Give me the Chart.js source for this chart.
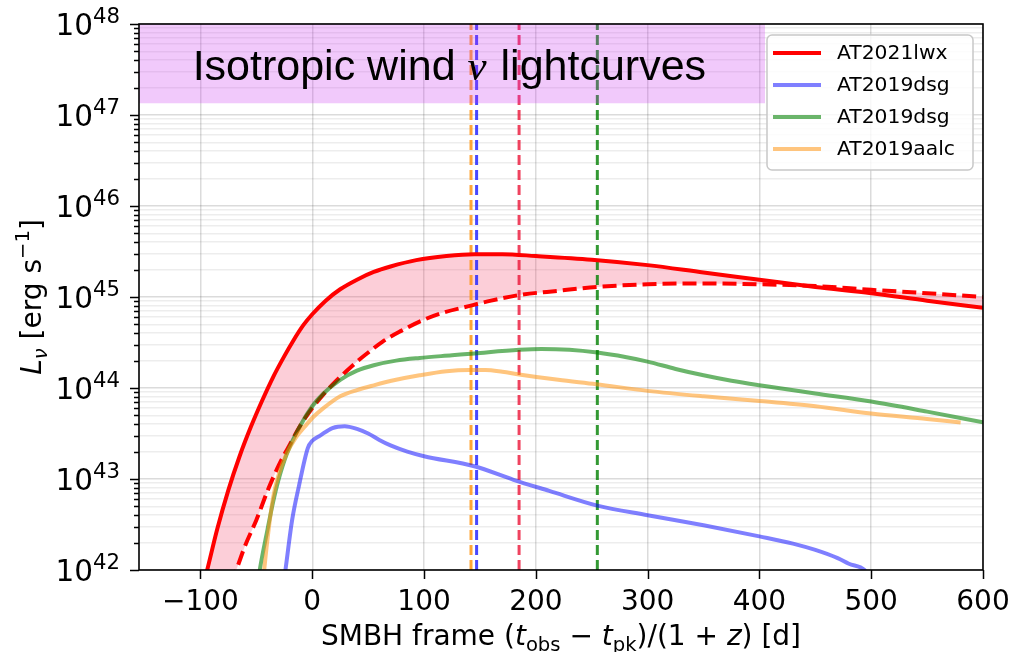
<!DOCTYPE html>
<html>
<head>
<meta charset="utf-8">
<title>Isotropic wind neutrino lightcurves</title>
<script src="https://cdn.jsdelivr.net/npm/chart.js@4.4.1/dist/chart.umd.min.js"></script>
<style>
  html, body { margin: 0; padding: 0; background: #ffffff; }
  #wrap { width: 1017px; height: 652px; }
</style>
</head>
<body>
<div id="wrap"><canvas id="c" width="1017" height="652"></canvas></div>
<script>
// ---- Data: SMBH-frame time [d] and neutrino luminosity L_nu [erg/s] ----
// AT2021lwx, upper model (solid) and lower model (dashed); band filled between them
const lwxUpperDays = [-100, -94, -85, -75, -65, -55, -45, -35, -25, -17, -8, 0, 12, 25, 40, 55, 70, 93, 120, 145, 170, 200, 250, 300, 350, 400, 450, 500, 550, 600];
const lwxUpperLum  = [5.2e41, 1.0e42, 2.82e42, 7.6e42, 1.78e43, 3.72e43, 7.2e43, 1.32e44, 2.24e44, 3.31e44, 4.9e44, 6.46e44, 9.12e44, 1.216e45, 1.55e45, 1.884e45, 2.163e45, 2.54e45, 2.82e45, 2.95e45, 2.95e45, 2.82e45, 2.57e45, 2.24e45, 1.86e45, 1.55e45, 1.29e45, 1.1e45, 9.1e44, 7.6e44];

const lwxLowerDays = [-100, -68, -60, -50, -40, -30, -20, -10, 0, 10, 20, 30, 40, 50, 63, 80, 96, 115, 140, 160, 185, 220, 255, 300, 350, 400, 450, 500, 550, 600];
const lwxLowerLum  = [1.1e41, 1.0e42, 1.86e42, 3.55e42, 7.4e42, 1.41e43, 2.4e43, 3.98e43, 6.03e43, 8.5e43, 1.15e44, 1.51e44, 1.95e44, 2.45e44, 3.24e44, 4.27e44, 5.37e44, 6.61e44, 7.94e44, 9.12e44, 1.05e45, 1.17e45, 1.29e45, 1.38e45, 1.41e45, 1.38e45, 1.32e45, 1.2e45, 1.1e45, 1.0e45];

// AT2019dsg, first model (blue)
const dsgADays = [-26, -24, -18, -12, -4, 0, 7, 18, 29, 40, 50, 60, 70, 85, 100, 145, 180, 212, 255, 300, 350, 400, 430, 450, 470, 480, 494, 500];
const dsgALum  = [6.6e41, 1.0e42, 3.55e42, 8.3e42, 2.19e43, 2.63e43, 3.0e43, 3.63e43, 3.8e43, 3.55e43, 3.16e43, 2.69e43, 2.34e43, 2.0e43, 1.78e43, 1.38e43, 9.8e42, 7.4e42, 5.1e42, 4.0e42, 3.1e42, 2.34e42, 1.95e42, 1.66e42, 1.35e42, 1.17e42, 1.0e42, 7.9e41];

// AT2019dsg, second model (green)
const dsgBDays = [-50, -47, -40, -35, -30, -23, -11, 0, 10, 25, 40, 55, 75, 96, 125, 145, 185, 205, 230, 255, 280, 300, 325, 350, 375, 400, 450, 500, 550, 600];
const dsgBLum  = [5.6e41, 1.0e42, 2.8e42, 5.6e42, 1.0e43, 1.86e43, 3.8e43, 6.3e43, 8.7e43, 1.23e44, 1.55e44, 1.78e44, 2.0e44, 2.14e44, 2.29e44, 2.4e44, 2.63e44, 2.69e44, 2.63e44, 2.45e44, 2.19e44, 1.95e44, 1.62e44, 1.38e44, 1.2e44, 1.07e44, 8.7e43, 7.1e43, 5.5e43, 4.2e43];

// AT2019aalc (orange)
const aalcDays = [-46, -43, -39, -35, -30, -23, -15, -7, 0, 10, 25, 40, 55, 75, 96, 120, 140, 155, 170, 185, 220, 254, 300, 350, 400, 450, 500, 550, 580];
const aalcLum  = [4.0e41, 1.0e42, 2.8e42, 6.3e42, 1.12e43, 1.9e43, 2.82e43, 3.72e43, 4.68e43, 6.0e43, 8.1e43, 9.5e43, 1.07e44, 1.23e44, 1.38e44, 1.53e44, 1.58e44, 1.58e44, 1.51e44, 1.41e44, 1.23e44, 1.1e44, 9.3e43, 8.1e43, 7.2e43, 6.3e43, 5.25e43, 4.57e43, 4.17e43];

// Neutrino arrival times (dashed vertical markers)
const nuArrivalDays   = [142, 147, 185, 255];
const nuArrivalColors = ['rgba(255,150,20,0.85)', 'rgba(40,40,255,0.85)', 'rgba(235,20,55,0.8)', 'rgba(0,128,0,0.8)'];

// Isotropic-wind region shown at the top
const windSpanDays = [-155, 405];
const windSpanLum  = [1.35e47, 1.0e48];

// Axes
const xRange = [-155, 600];
const yRange = [1e42, 1e48];
const xTickValues = [-100, 0, 100, 200, 300, 400, 500, 600];
const yDecades = [42, 43, 44, 45, 46, 47, 48];

const legendNames = ['AT2021lwx', 'AT2019dsg', 'AT2019dsg', 'AT2019aalc'];
const headline = ['Isotropic wind ', '\u03bd', ' lightcurves'];
const headlineAt = { x: -107, y: 2.4e47 };

// ---- helpers ----
const pts = (xs, ys) => xs.map((v, i) => ({ x: v, y: ys[i] }));
const FONT = '"DejaVu Sans"';

const curve = {
  pointRadius: 0, pointHoverRadius: 0, borderWidth: 4,
  cubicInterpolationMode: 'monotone', fill: false
};

function markerSet(day, color, order) {
  return {
    data: [{ x: day, y: yRange[0] }, { x: day, y: yRange[1] }],
    borderColor: color, borderWidth: 3, borderDash: [10, 5],
    pointRadius: 0, pointHoverRadius: 0, fill: false, order: order
  };
}

const datasets = [
  Object.assign({}, curve, { label: legendNames[0], inLegend: true, data: pts(lwxUpperDays, lwxUpperLum), borderColor: '#ff0000', order: 4 }),
  Object.assign({}, curve, { label: legendNames[0] + ' (lower)', data: pts(lwxLowerDays, lwxLowerLum), borderColor: '#ff0000', borderDash: [14, 6], order: 3 }),
  Object.assign({}, curve, { label: legendNames[1], inLegend: true, data: pts(dsgADays, dsgALum), borderColor: 'rgba(0,0,255,0.5)', order: 2 }),
  Object.assign({}, curve, { label: legendNames[2], inLegend: true, data: pts(dsgBDays, dsgBLum), borderColor: 'rgba(0,128,0,0.58)', order: 1 }),
  Object.assign({}, curve, { label: legendNames[3], inLegend: true, data: pts(aalcDays, aalcLum), borderColor: 'rgba(255,150,20,0.55)', order: 0 }),
  // AT2021lwx model band: upper curve filled down to the lower curve (dataset 1)
  Object.assign({}, curve, { label: 'band', data: pts(lwxUpperDays, lwxUpperLum), borderWidth: 0, borderColor: 'rgba(0,0,0,0)', backgroundColor: 'rgba(245,60,100,0.25)', fill: 1, order: 10 }),
  // wind region (drawn over the arrival markers)
  { label: 'wind', data: [{ x: windSpanDays[0], y: windSpanLum[1] }, { x: windSpanDays[1], y: windSpanLum[1] }],
    borderWidth: 0, borderColor: 'rgba(0,0,0,0)', backgroundColor: 'rgba(200,40,240,0.25)',
    pointRadius: 0, fill: { value: windSpanLum[0] }, order: 5 }
];
nuArrivalDays.forEach((d, i) => datasets.push(markerSet(d, nuArrivalColors[i], 6 + i)));

// log-axis ticks: 1..9 x 10^n for each decade, plus the top decade
function logTicks() {
  const out = [];
  for (let i = 0; i < yDecades.length - 1; i++) {
    for (let k = 1; k <= 9; k++) out.push({ value: k * Math.pow(10, yDecades[i]), major: k === 1, exp: yDecades[i] });
  }
  const top = yDecades[yDecades.length - 1];
  out.push({ value: Math.pow(10, top), major: true, exp: top });
  return out;
}

function drawRich(ctx, parts, x, y, size, align, supScale) {
  const items = parts.map(([t, k]) => {
    const small = k === 'sub' || k === 'sup' || k === 'isub';
    const s = small ? size * (k === 'sup' && supScale ? supScale : 0.7) : size;
    const italic = k === 'i' || k === 'isub';
    const f = (italic ? 'italic ' : '') + s + 'px ' + FONT;
    ctx.font = f;
    const w = ctx.measureText(t).width;
    const dy = (k === 'sub' || k === 'isub') ? size * 0.22 : (k === 'sup' ? -size * 0.42 : 0);
    return { t, f, w, dy };
  });
  const total = items.reduce((acc, it) => acc + it.w, 0);
  let cx = align === 'center' ? x - total / 2 : (align === 'right' ? x - total : x);
  ctx.textAlign = 'left';
  ctx.textBaseline = 'alphabetic';
  for (const it of items) { ctx.font = it.f; ctx.fillText(it.t, cx, y + it.dy); cx += it.w; }
  return total;
}

const TICK_SIZE = 28;

const frame = {
  id: 'frame',
  afterDraw(chart) {
    const { ctx, chartArea: a, scales: { x, y } } = chart;
    ctx.save();
    ctx.fillStyle = '#000';
    ctx.strokeStyle = '#000';

    // headline inside the wind region
    const hx = x.getPixelForValue(headlineAt.x), hy = y.getPixelForValue(headlineAt.y);
    ctx.textBaseline = 'alphabetic';
    ctx.textAlign = 'left';
    const sans = '43px "Liberation Sans", Arial, sans-serif';
    ctx.font = sans;
    let cx = hx;
    ctx.fillText(headline[0], cx, hy); cx += ctx.measureText(headline[0]).width;
    ctx.font = 'italic 43px "Liberation Serif", "Times New Roman", serif';
    ctx.fillText(headline[1], cx, hy); cx += ctx.measureText(headline[1]).width + 2;
    ctx.font = sans;
    ctx.fillText(headline[2], cx, hy);

    // tick marks
    ctx.lineWidth = 1.5;
    ctx.beginPath();
    x.ticks.forEach(t => {
      const px = Math.round(x.getPixelForValue(t.value)) + 0.5;
      ctx.moveTo(px, a.bottom); ctx.lineTo(px, a.bottom + 9);
    });
    y.ticks.forEach(t => {
      const py = Math.round(y.getPixelForValue(t.value)) + 0.5;
      ctx.moveTo(a.left, py); ctx.lineTo(a.left - (t.major ? 9 : 5), py);
    });
    ctx.stroke();

    // x tick labels
    ctx.font = TICK_SIZE + 'px ' + FONT;
    ctx.textAlign = 'center';
    ctx.textBaseline = 'alphabetic';
    x.ticks.forEach(t => {
      const s = t.value < 0 ? '\u2212' + Math.abs(t.value) : String(t.value);
      ctx.fillText(s, x.getPixelForValue(t.value), a.bottom + 40);
    });

    // y tick labels: 10^n
    y.ticks.filter(t => t.major).forEach(t => {
      drawRich(ctx, [['10', 'n'], [String(t.exp), 'sup']], a.left - 19, y.getPixelForValue(t.value) + 11, 29.5, 'right', 0.72);
    });

    // axis titles
    drawRich(ctx, [['SMBH frame (', 'n'], ['t', 'i'], ['obs', 'sub'], [' \u2212 ', 'n'], ['t', 'i'], ['pk', 'sub'],
                   [')/(1 + ', 'n'], ['z', 'i'], [') [d]', 'n']],
             (a.left + a.right) / 2, a.bottom + 75, TICK_SIZE, 'center');
    ctx.save();
    ctx.translate(a.left - 98, (a.top + a.bottom) / 2);
    ctx.rotate(-Math.PI / 2);
    drawRich(ctx, [['L', 'i'], ['\u03bd', 'isub'], [' [erg s', 'n'], ['\u22121', 'sup'], [']', 'n']], 0, 0, TICK_SIZE, 'center');
    ctx.restore();

    // spines
    ctx.lineWidth = 1.6;
    ctx.strokeRect(a.left, a.top, a.right - a.left, a.bottom - a.top);

    // legend (upper right)
    const entries = chart.data.datasets.filter(d => d.inLegend);
    const lw = 206, lh = 135;
    const lx = a.right - 10 - lw, ly = a.top + 11;
    ctx.beginPath();
    ctx.roundRect(lx, ly, lw, lh, 5);
    ctx.fillStyle = 'rgba(255,255,255,0.8)';
    ctx.fill();
    ctx.lineWidth = 1.5;
    ctx.strokeStyle = 'rgba(200,200,200,1)';
    ctx.stroke();
    ctx.font = '20.3px ' + FONT;
    ctx.textAlign = 'left';
    ctx.textBaseline = 'middle';
    entries.forEach((d, i) => {
      const ry = ly + 18 + i * 32;
      ctx.strokeStyle = d.borderColor;
      ctx.lineWidth = 4;
      ctx.setLineDash([]);
      ctx.beginPath(); ctx.moveTo(lx + 6, ry); ctx.lineTo(lx + 54, ry); ctx.stroke();
      ctx.fillStyle = '#000';
      ctx.fillText(d.label, lx + 70, ry + 1);
    });
    ctx.restore();
  }
};

new Chart(document.getElementById('c'), {
  type: 'line',
  data: { datasets },
  options: {
    responsive: false,
    animation: false,
    events: [],
    layout: { padding: { left: 139, right: 34, top: 24, bottom: 82 } },
    plugins: { legend: { display: false }, title: { display: false }, tooltip: { enabled: false } },
    scales: {
      x: {
        type: 'linear', min: xRange[0], max: xRange[1],
        afterBuildTicks: s => { s.ticks = xTickValues.map(v => ({ value: v })); },
        ticks: { display: false },
        grid: { color: 'rgba(0,0,0,0.14)', lineWidth: 1.5, drawTicks: false },
        border: { display: false }
      },
      y: {
        type: 'logarithmic', min: yRange[0], max: yRange[1],
        afterBuildTicks: s => { s.ticks = logTicks(); },
        ticks: { display: false },
        grid: {
          color: c => (c.tick && c.tick.major) ? 'rgba(0,0,0,0.14)' : 'rgba(0,0,0,0.07)',
          lineWidth: 1.5, drawTicks: false
        },
        border: { display: false }
      }
    }
  },
  plugins: [frame]
});
</script>
</body>
</html>
